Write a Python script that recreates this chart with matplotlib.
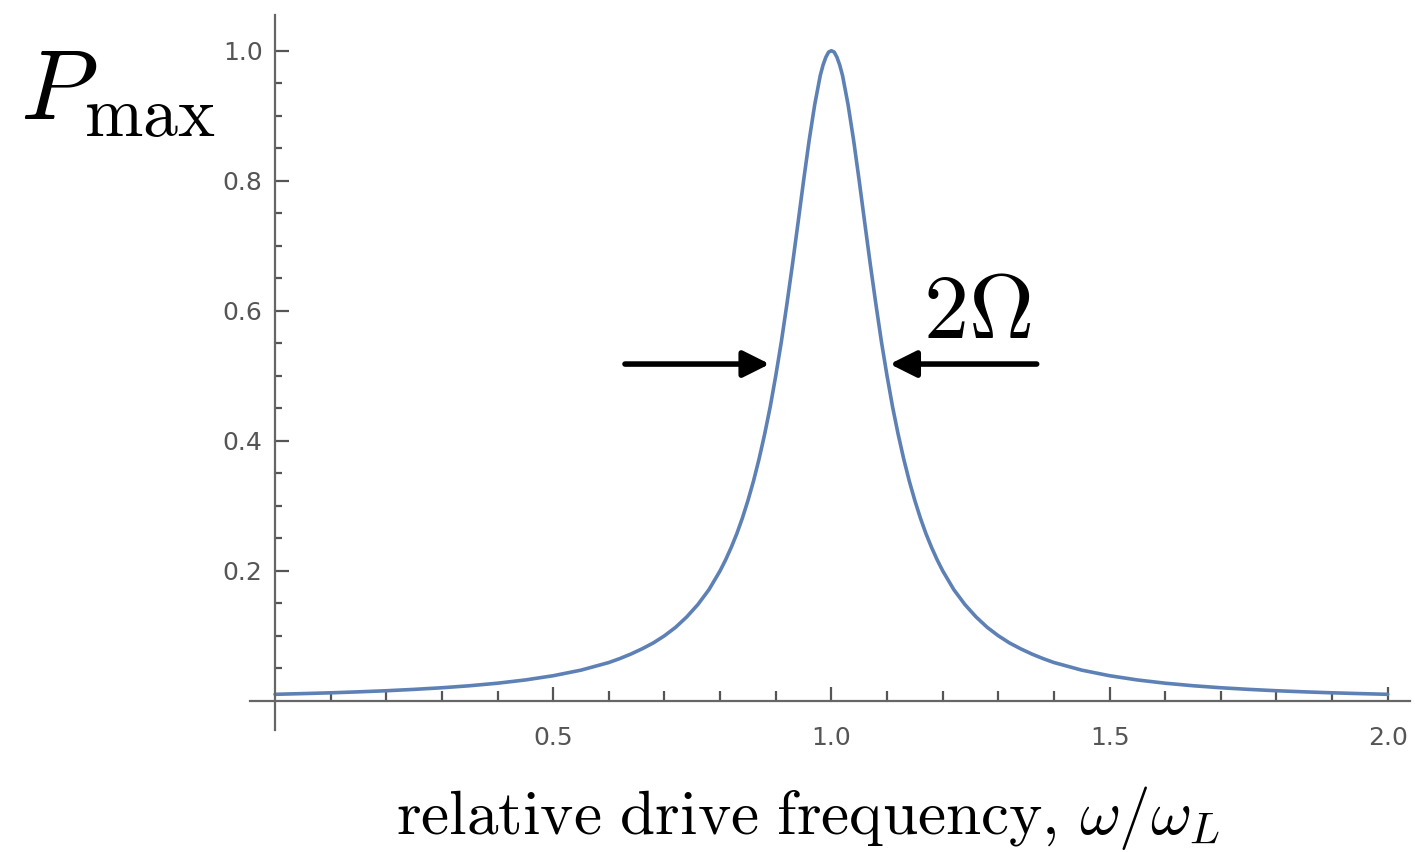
import numpy as np
import matplotlib.pyplot as plt

# values (relative drive frequency, P_max)
freq = [0.0, 0.05, 0.1, 0.15, 0.2, 0.25, 0.3, 0.35, 0.4, 0.45, 0.5, 0.55, 0.6, 0.62, 0.64,
        0.66, 0.68, 0.7, 0.72, 0.74, 0.76, 0.78, 0.8, 0.81, 0.82, 0.83, 0.84, 0.85, 0.86,
        0.87, 0.88, 0.89, 0.9, 0.91, 0.92, 0.93, 0.94, 0.95, 0.96, 0.97, 0.98, 0.985, 0.99,
        0.995, 1.0, 1.005, 1.01, 1.015, 1.02, 1.03, 1.04, 1.05, 1.06, 1.07, 1.08, 1.09, 1.1,
        1.11, 1.12, 1.13, 1.14, 1.15, 1.16, 1.17, 1.18, 1.19, 1.2, 1.22, 1.24, 1.26, 1.28,
        1.3, 1.32, 1.34, 1.36, 1.38, 1.4, 1.45, 1.5, 1.55, 1.6, 1.65, 1.7, 1.75, 1.8, 1.85,
        1.9, 1.95, 2.0]
pmax = [0.0099, 0.0110, 0.0122, 0.0137, 0.0154, 0.0175, 0.0200, 0.0231, 0.0270, 0.0320,
        0.0385, 0.0471, 0.0588, 0.065, 0.072, 0.080, 0.089, 0.100, 0.113, 0.129, 0.148,
        0.171, 0.200, 0.217, 0.236, 0.257, 0.281, 0.308, 0.338, 0.372, 0.410, 0.452, 0.500,
        0.552, 0.610, 0.671, 0.735, 0.800, 0.862, 0.917, 0.962, 0.978, 0.990, 0.998, 1.000,
        0.998, 0.990, 0.978, 0.962, 0.917, 0.862, 0.800, 0.735, 0.671, 0.610, 0.552, 0.500,
        0.452, 0.410, 0.372, 0.338, 0.308, 0.281, 0.257, 0.236, 0.217, 0.200, 0.171, 0.148,
        0.129, 0.113, 0.100, 0.089, 0.080, 0.072, 0.065, 0.0588, 0.0471, 0.0385, 0.0320,
        0.0270, 0.0231, 0.0200, 0.0175, 0.0154, 0.0137, 0.0122, 0.0110, 0.0099]

xticks = [0.5, 1.0, 1.5, 2.0]
yticks = [0.2, 0.4, 0.6, 0.8, 1.0]

plt.rcParams['mathtext.fontset'] = 'cm'
plt.rcParams['font.family'] = 'DejaVu Sans'

W, H = 1415, 852
fig = plt.figure(figsize=(W / 100, H / 100), dpi=100)
ax = fig.add_axes([250 / W, 1 - 730 / H, 1160 / W, 715 / H])

ax.plot(freq, pmax, color='#5E81B5', lw=2.6, solid_capstyle='round', solid_joinstyle='round')
ax.set_xlim(-0.045, 2.04)
ax.set_ylim(-0.045, 1.055)

for s in ['top', 'right']:
    ax.spines[s].set_visible(False)
ax.spines['left'].set_position(('data', 0))
ax.spines['bottom'].set_position(('data', 0))
for s in ['left', 'bottom']:
    ax.spines[s].set_color('#666666')
    ax.spines[s].set_linewidth(1.6)

ax.set_xticks(xticks)
ax.set_xticklabels(['%.1f' % v for v in xticks])
ax.set_xticks(np.arange(0.1, 2.0, 0.1), minor=True)
ax.set_yticks(yticks)
ax.set_yticklabels(['%.1f' % v for v in yticks])
ax.set_yticks(np.arange(0.05, 1.05, 0.05), minor=True)
ax.tick_params(which='both', direction='in', color='#555555', width=1.6,
               labelsize=18, labelcolor='#555555')
ax.tick_params(axis='x', which='major', length=10, pad=18)
ax.tick_params(axis='x', which='minor', length=7)
ax.tick_params(axis='y', which='major', length=10, pad=9)
ax.tick_params(axis='y', which='minor', length=5)

# annotations
arrow = dict(arrowstyle='-|>,head_length=1.6,head_width=0.8', color='black', lw=4,
             shrinkA=0, shrinkB=0)
ax.annotate('', xy=(0.889, 0.518), xytext=(0.629, 0.518), arrowprops=arrow)
ax.annotate('', xy=(1.105, 0.518), xytext=(1.369, 0.518), arrowprops=arrow)
ax.text(1.262, 0.597, r'$2\Omega$', fontsize=65, ha='center', va='center')

fig.text(20 / W, 1 - 92 / H, r'$P_{\max}$', fontsize=72, ha='left', va='center')
fig.text(808 / W, 1 - 818 / H, r'$\mathrm{relative\ drive\ frequency,}\,\omega/\omega_L$',
         fontsize=45.5, ha='center', va='center')

fig.savefig('out.png', dpi=100)
